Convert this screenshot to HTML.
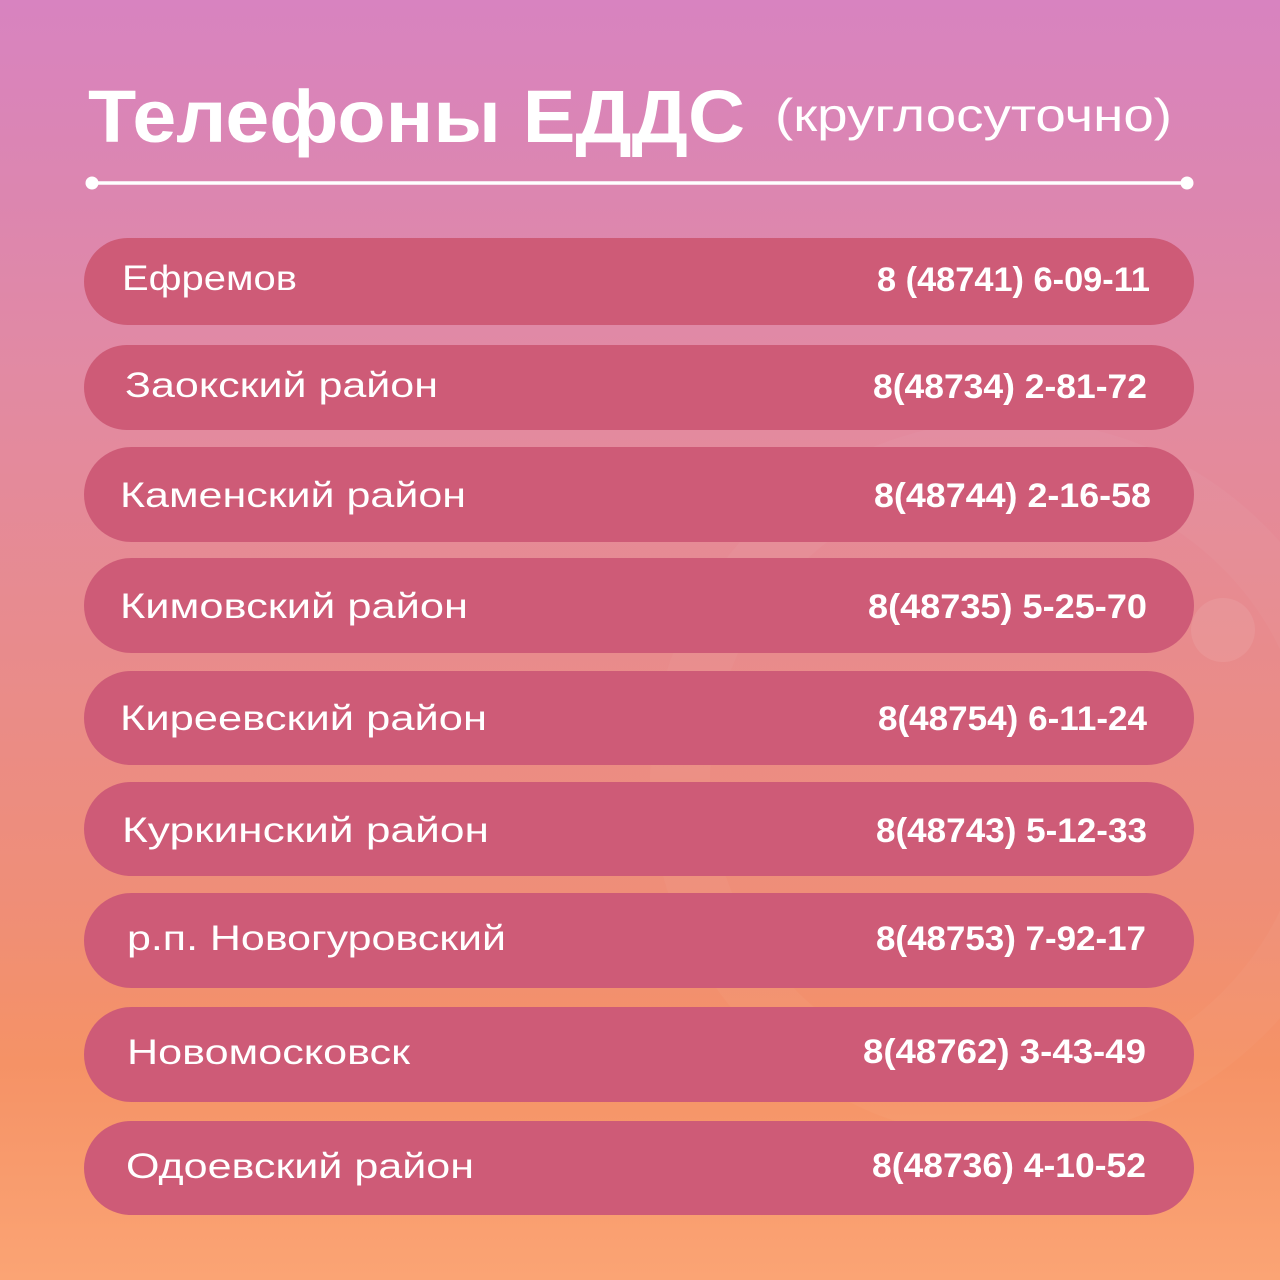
<!DOCTYPE html>
<html>
<head>
<meta charset="utf-8">
<style>
  html,body{margin:0;padding:0;width:1280px;height:1280px;overflow:hidden;}
  svg{display:block;}
  .nm{font-family:"Liberation Sans","Noto Sans CJK SC",sans-serif;font-size:35px;fill:#ffffff;}
  .ph{font-family:"Liberation Sans","Noto Sans CJK SC",sans-serif;font-size:34px;font-weight:bold;fill:#ffffff;}
</style>
</head>
<body>
<svg width="1280" height="1280" viewBox="0 0 1280 1280" xmlns="http://www.w3.org/2000/svg">
  <defs>
    <linearGradient id="bg" x1="0" y1="0" x2="0" y2="1">
      <stop offset="0" stop-color="#d883c0"/>
      <stop offset="0.15" stop-color="#dc86b0"/>
      <stop offset="0.3" stop-color="#e28aa2"/>
      <stop offset="0.5" stop-color="#e88b8d"/>
      <stop offset="0.7" stop-color="#ef8e78"/>
      <stop offset="0.83" stop-color="#f59266"/>
      <stop offset="1" stop-color="#fba474"/>
    </linearGradient>
  </defs>
  <rect x="0" y="0" width="1280" height="1280" fill="url(#bg)"/>

  <!-- faint decoration -->
  <circle cx="1223" cy="630" r="32" fill="#ffffff" fill-opacity="0.08"/>
  <circle cx="1010" cy="780" r="330" fill="none" stroke="#ffffff" stroke-opacity="0.03" stroke-width="60"/>

  <!-- title -->
  <text x="88" y="142" font-family="'Liberation Sans', sans-serif" font-size="74" font-weight="bold" fill="#ffffff" textLength="657" lengthAdjust="spacingAndGlyphs">Телефоны ЕДДС</text>
  <text x="775" y="131" font-family="'Liberation Sans', sans-serif" font-size="46" fill="#ffffff" textLength="397" lengthAdjust="spacingAndGlyphs">(круглосуточно)</text>

  <!-- divider -->
  <line x1="92" y1="183" x2="1187" y2="183" stroke="#ffffff" stroke-width="3.5"/>
  <circle cx="92" cy="183" r="6.5" fill="#ffffff"/>
  <circle cx="1187" cy="183" r="6.5" fill="#ffffff"/>

  <!-- rows -->
  <g fill="#ce5b77">
    <rect x="84" y="238" width="1110" height="87" rx="43.5" ry="43.5"/>
    <rect x="84" y="345" width="1110" height="85" rx="42.5" ry="42.5"/>
    <rect x="84" y="447" width="1110" height="95" rx="47.5" ry="47.5"/>
    <rect x="84" y="558" width="1110" height="95" rx="47.5" ry="47.5"/>
    <rect x="84" y="671" width="1110" height="94" rx="47" ry="47"/>
    <rect x="84" y="782" width="1110" height="94" rx="47" ry="47"/>
    <rect x="84" y="893" width="1110" height="95" rx="47.5" ry="47.5"/>
    <rect x="84" y="1007" width="1110" height="95" rx="47.5" ry="47.5"/>
    <rect x="84" y="1121" width="1110" height="94" rx="47" ry="47"/>
  </g>

  <!-- names -->
  <text class="nm" x="122" y="290" textLength="175" lengthAdjust="spacingAndGlyphs">Ефремов</text>
  <text class="nm" x="125" y="397" textLength="313" lengthAdjust="spacingAndGlyphs">Заокский район</text>
  <text class="nm" x="120" y="507" textLength="346" lengthAdjust="spacingAndGlyphs">Каменский район</text>
  <text class="nm" x="120" y="618" textLength="348" lengthAdjust="spacingAndGlyphs">Кимовский район</text>
  <text class="nm" x="120" y="730" textLength="367" lengthAdjust="spacingAndGlyphs">Киреевский район</text>
  <text class="nm" x="122" y="842" textLength="367" lengthAdjust="spacingAndGlyphs">Куркинский район</text>
  <text class="nm" x="127" y="950" textLength="379" lengthAdjust="spacingAndGlyphs">р.п. Новогуровский</text>
  <text class="nm" x="127" y="1064" textLength="283" lengthAdjust="spacingAndGlyphs">Новомосковск</text>
  <text class="nm" x="126" y="1178" textLength="348" lengthAdjust="spacingAndGlyphs">Одоевский район</text>

  <!-- phones -->
  <text class="ph" x="877" y="291" textLength="273" lengthAdjust="spacingAndGlyphs">8 (48741) 6-09-11</text>
  <text class="ph" x="873" y="398" textLength="274" lengthAdjust="spacingAndGlyphs">8(48734) 2-81-72</text>
  <text class="ph" x="874" y="507" textLength="277" lengthAdjust="spacingAndGlyphs">8(48744) 2-16-58</text>
  <text class="ph" x="868" y="618" textLength="279" lengthAdjust="spacingAndGlyphs">8(48735) 5-25-70</text>
  <text class="ph" x="878" y="730" textLength="269" lengthAdjust="spacingAndGlyphs">8(48754) 6-11-24</text>
  <text class="ph" x="876" y="842" textLength="271" lengthAdjust="spacingAndGlyphs">8(48743) 5-12-33</text>
  <text class="ph" x="876" y="950" textLength="270" lengthAdjust="spacingAndGlyphs">8(48753) 7-92-17</text>
  <text class="ph" x="863" y="1063" textLength="283" lengthAdjust="spacingAndGlyphs">8(48762) 3-43-49</text>
  <text class="ph" x="872" y="1177" textLength="274" lengthAdjust="spacingAndGlyphs">8(48736) 4-10-52</text>
</svg>
</body>
</html>
